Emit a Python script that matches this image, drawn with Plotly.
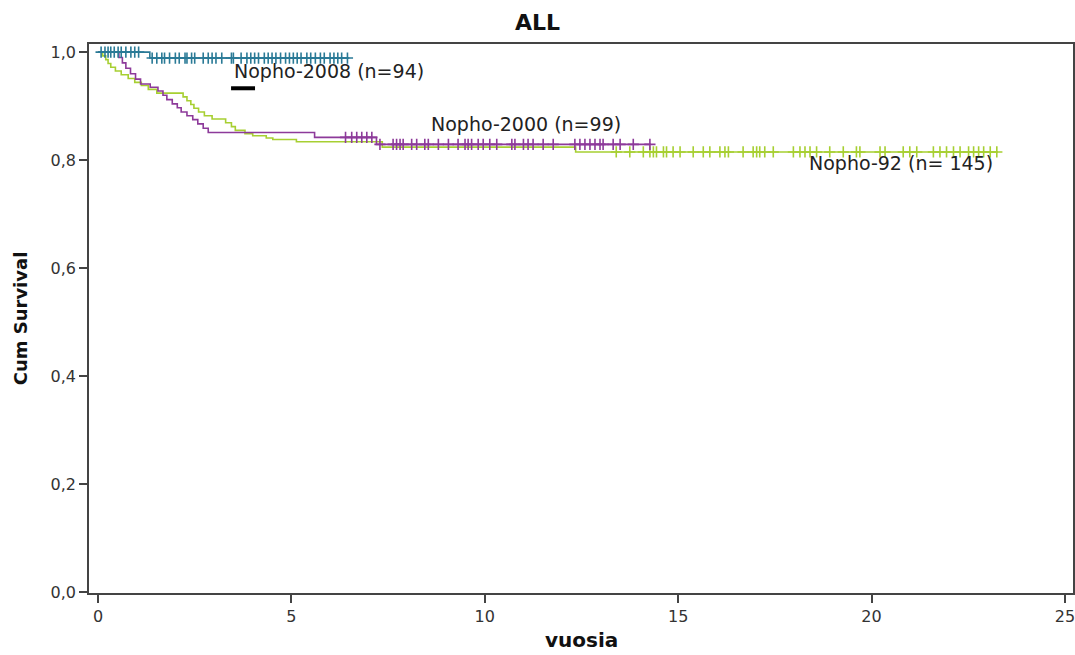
import numpy as np
import plotly.graph_objects as go

# Kaplan-Meier step data: event times (years) and survival after each event
t_2008 = [0.0, 1.34]
s_2008 = [1.0, 0.989]
end_2008 = 6.5
cens_2008 = [0.08, 0.18, 0.26, 0.33, 0.42, 0.52, 0.6, 0.72, 0.85, 0.95, 1.05,
             1.4, 1.52, 1.65, 1.72, 1.85, 2.0, 2.1, 2.25, 2.3, 2.42, 2.5, 2.72,
             2.85, 2.95, 3.05, 3.2, 3.45, 3.5, 3.7, 3.85, 3.95, 4.05, 4.15,
             4.3, 4.4, 4.5, 4.6, 4.72, 4.85, 4.95, 5.05, 5.15, 5.25, 5.4, 5.5,
             5.62, 5.75, 5.85, 6.0, 6.1, 6.2, 6.3, 6.45]

t_2000 = [0.0, 0.54, 0.63, 0.72, 0.84, 0.97, 1.1, 1.35, 1.55, 1.68, 1.78,
          1.92, 2.05, 2.15, 2.3, 2.45, 2.58, 2.72, 2.85, 5.6, 7.2]
s_2000 = [1.0, 0.99, 0.98, 0.97, 0.96, 0.95, 0.941, 0.935, 0.928, 0.92, 0.912,
          0.904, 0.897, 0.889, 0.882, 0.875, 0.867, 0.859, 0.851, 0.842, 0.829]
end_2000 = 14.3
cens_2000 = [6.4, 6.56, 6.69, 6.82, 6.95, 7.08, 7.29, 7.63, 7.72, 7.81, 7.89,
             8.11, 8.24, 8.45, 8.54, 8.8, 9.06, 9.31, 9.49, 9.57, 9.66, 9.83,
             9.96, 10.13, 10.31, 10.7, 10.78, 11.0, 11.12, 11.25, 11.51,
             11.77, 12.33, 12.46, 12.59, 12.72, 12.85, 12.98, 13.06, 13.32,
             13.5, 13.84, 14.27]

t_92 = [0.0, 0.12, 0.2, 0.26, 0.33, 0.45, 0.6, 0.78, 0.95, 1.12, 1.3, 1.52,
        2.2, 2.3, 2.4, 2.48, 2.6, 2.75, 2.95, 3.3, 3.45, 3.55, 3.8, 4.0, 4.35,
        4.52, 5.13, 7.35, 12.35]
s_92 = [1.0, 0.993, 0.986, 0.979, 0.972, 0.965, 0.958, 0.951, 0.944, 0.938,
        0.931, 0.924, 0.917, 0.91, 0.903, 0.896, 0.889, 0.882, 0.876, 0.869,
        0.862, 0.855, 0.849, 0.845, 0.841, 0.838, 0.834, 0.824, 0.815]
end_92 = 23.27
cens_92 = [13.4, 13.75, 14.1, 14.27, 14.36, 14.44, 14.62, 14.7, 14.87, 15.05,
           15.39, 15.65, 15.82, 16.08, 16.21, 16.3, 16.68, 16.94, 17.03,
           17.11, 17.24, 17.46, 17.98, 18.15, 18.28, 18.41, 18.58, 18.92,
           19.27, 19.61, 19.7, 20.22, 20.35, 20.82, 20.99, 21.17, 21.6, 21.77,
           21.94, 22.12, 22.29, 22.51, 22.64, 22.77, 22.9, 23.07, 23.24]

groups = [
    ("Nopho-92 (n= 145)", t_92, s_92, end_92, cens_92, "#a7cf32"),
    ("Nopho-2000 (n=99)", t_2000, s_2000, end_2000, cens_2000, "#8d3a9a"),
    ("Nopho-2008 (n=94)", t_2008, s_2008, end_2008, cens_2008, "#2a7a96"),
]

x_ticks = [0, 5, 10, 15, 20, 25]
y_ticks = [0.0, 0.2, 0.4, 0.6, 0.8, 1.0]


def surv_at(times, surv, x):
    idx = np.searchsorted(np.asarray(times), np.asarray(x), side="right") - 1
    return np.asarray(surv)[idx]


fig = go.Figure()
for name, t, s, end, cens, color in groups:
    fig.add_trace(go.Scatter(
        x=list(t) + [end], y=list(s) + [s[-1]],
        mode="lines", line=dict(color=color, width=1.6, shape="hv"),
        name=name, showlegend=False, hoverinfo="skip"))
    fig.add_trace(go.Scatter(
        x=cens, y=surv_at(t, s, cens),
        mode="markers",
        marker=dict(symbol="cross-thin", size=8,
                    line=dict(color=color, width=1.6)),
        name=name + " censored", showlegend=False, hoverinfo="skip"))

label_font = dict(family="DejaVu Sans, sans-serif", size=19,
                  color="#222222")
fig.add_annotation(x=3.46, y=0.965, text="Nopho-2008 (n=94)", showarrow=False,
                   xanchor="left", yanchor="middle", font=label_font)
fig.add_annotation(x=8.57, y=0.866, text="Nopho-2000 (n=99)", showarrow=False,
                   xanchor="left", yanchor="middle", font=label_font)
fig.add_annotation(x=18.33, y=0.795, text="Nopho-92 (n= 145)", showarrow=False,
                   xanchor="left", yanchor="middle", font=label_font)

# x-axis title placed below the tick labels, kept inside the page
fig.add_annotation(x=0.5, y=0, xref="paper", yref="paper", yshift=-61,
                   text="<b>vuosia</b>", showarrow=False,
                   xanchor="center", yanchor="bottom",
                   font=dict(family="DejaVu Sans, sans-serif", size=20,
                             color="#111111"))

# short black key line under the 2008 label
fig.add_shape(type="line", x0=3.44, x1=4.06, y0=0.933, y1=0.933,
              line=dict(color="black", width=4))

axis_common = dict(
    showgrid=False, zeroline=False, showline=True, mirror=True,
    linecolor="#444444", linewidth=1.6, automargin=False,
    ticklabeloverflow="allow",
    ticks="outside", ticklen=8, tickwidth=1.6, tickcolor="#444444",
    tickfont=dict(family="DejaVu Sans, sans-serif", size=16, color="#333333"),
)

fig.update_layout(
    width=1075, height=655,
    margin=dict(l=89, r=2, t=44, b=62),
    paper_bgcolor="white", plot_bgcolor="white",
    separators=", ",
    title=dict(text="<b>ALL</b>", x=0.5, xanchor="center", y=0.966,
               yanchor="middle",
               font=dict(family="DejaVu Sans, sans-serif", size=22,
                         color="#111111")),
    xaxis=dict(range=[-0.233, 25.21], tickvals=x_ticks, **axis_common),
    yaxis=dict(range=[-0.002, 1.015], tickvals=y_ticks, tickformat=".1f",
               **axis_common,
               title=dict(text="<b>Cum Survival</b>", standoff=18,
                          font=dict(family="DejaVu Sans, sans-serif", size=18,
                                    color="#111111"))),
)

fig.write_html("out.html")
